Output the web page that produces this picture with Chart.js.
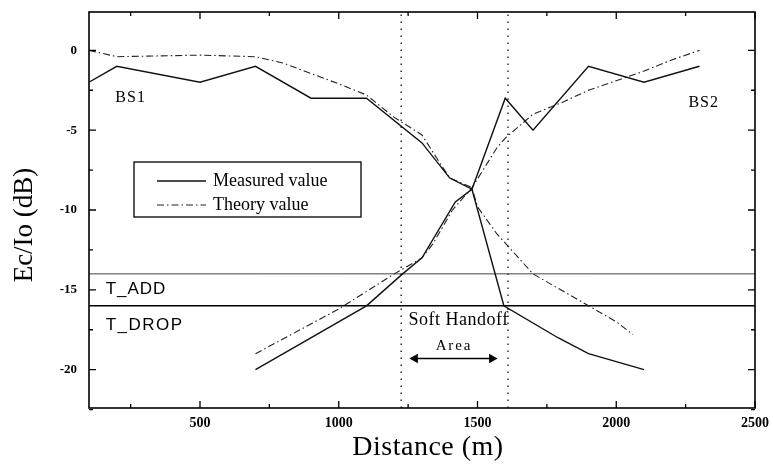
<!DOCTYPE html>
<html>
<head>
<meta charset="utf-8">
<script src="https://cdn.jsdelivr.net/npm/chart.js@4.4.1/dist/chart.umd.min.js"></script>
<style>
  html, body { margin: 0; padding: 0; background: #fff; }
  #wrap { width: 773px; height: 469px; }
</style>
</head>
<body>
<div id="wrap"><canvas id="handoffChart" width="773" height="469"></canvas></div>
<script>
// values (distance in m, Ec/Io in dB)
var measuredBs1Dist = [100, 200, 500, 700, 900, 1100, 1300, 1400, 1480, 1595, 1790, 1900, 2100];
var measuredBs1Val  = [-2, -1, -2, -1, -3, -3, -5.8, -8, -8.7, -16, -18, -19, -20];

var measuredBs2Dist = [700, 1100, 1230, 1300, 1420, 1480, 1600, 1700, 1900, 2100, 2300];
var measuredBs2Val  = [-20, -16, -14, -13, -9.5, -8.7, -3, -5, -1, -2, -1];

var theoryBs1Dist = [100, 200, 500, 700, 800, 1000, 1100, 1200, 1300, 1340, 1400, 1480, 1500, 1570, 1700, 1800, 1900, 2000, 2060];
var theoryBs1Val  = [0, -0.4, -0.3, -0.4, -0.8, -2.1, -2.8, -4.2, -5.3, -6.4, -8, -8.6, -9.8, -11.5, -14, -15, -16, -17, -17.8];

var theoryBs2Dist = [700, 1000, 1200, 1300, 1340, 1410, 1480, 1520, 1570, 1600, 1700, 1800, 1900, 2000, 2100, 2200, 2300];
var theoryBs2Val  = [-19, -16.2, -14, -13, -12.1, -10, -8.6, -7.5, -6.1, -5.5, -4, -3.3, -2.5, -1.9, -1.3, -0.6, 0];

var tAdd = -14;
var tDrop = -16;
var handoffStart = 1225;
var handoffEnd = 1610;
var arrowDist = [1275, 1552];
var arrowLevel = -19.3;

var xTicks = [500, 1000, 1500, 2000, 2500];
var xMinorTicks = [250, 750, 1250, 1750, 2250];
var yTicks = [-20, -15, -10, -5, 0];
var yMinorTicks = [-22.5, -17.5, -12.5, -7.5, -2.5];
var xRange = [100, 2500];
var yRange = [-22.4, 2.4];

var serif = '"Liberation Serif", "Times New Roman", serif';
var sans = '"Liberation Sans", Arial, sans-serif';

function pts(xs, ys) {
  return xs.map(function (x, i) { return { x: x, y: ys[i] }; });
}

var solid = { borderColor: '#111', borderWidth: 1.4, pointRadius: 0, fill: false, tension: 0 };
var dashDot = { borderColor: '#222', borderWidth: 1.1, borderDash: [7, 3, 1.5, 3], pointRadius: 0, fill: false, tension: 0 };

var datasets = [
  Object.assign({ label: 'Measured value', data: pts(measuredBs1Dist, measuredBs1Val) }, solid),
  Object.assign({ label: 'Measured BS2', data: pts(measuredBs2Dist, measuredBs2Val) }, solid),
  Object.assign({ label: 'Theory value', data: pts(theoryBs1Dist, theoryBs1Val) }, dashDot),
  Object.assign({ label: 'Theory BS2', data: pts(theoryBs2Dist, theoryBs2Val) }, dashDot),
  { label: 'T_ADD', data: pts(xRange, [tAdd, tAdd]), borderColor: '#444', borderWidth: 1, pointRadius: 0 },
  { label: 'T_DROP', data: pts(xRange, [tDrop, tDrop]), borderColor: '#000', borderWidth: 1.6, pointRadius: 0 },
  { label: 'start', data: pts([handoffStart, handoffStart], yRange), borderColor: '#222', borderWidth: 1.4, borderDash: [1.5, 5.5], pointRadius: 0 },
  { label: 'end', data: pts([handoffEnd, handoffEnd], yRange), borderColor: '#222', borderWidth: 1.4, borderDash: [1.5, 5.5], pointRadius: 0 },
  { label: 'arrow', data: pts(arrowDist, [arrowLevel, arrowLevel]), borderColor: '#000', borderWidth: 1.6,
    pointStyle: 'triangle', pointRadius: 4, pointRotation: [270, 90], pointBackgroundColor: '#000', pointBorderColor: '#000' }
];

// frame, inward ticks, axis titles, labels and legend box
var decorations = {
  id: 'decorations',
  afterDatasetsDraw: function (chart) {
    var ctx = chart.ctx, a = chart.chartArea;
    var xs = chart.scales.x, ys = chart.scales.y;
    ctx.save();
    ctx.strokeStyle = '#000';
    ctx.lineWidth = 1.6;
    ctx.strokeRect(a.left, a.top, a.right - a.left, a.bottom - a.top);

    ctx.lineWidth = 1.3;
    function tickX(v, len) {
      var p = xs.getPixelForValue(v);
      ctx.beginPath();
      ctx.moveTo(p, a.bottom); ctx.lineTo(p, a.bottom - len);
      ctx.moveTo(p, a.top); ctx.lineTo(p, a.top + len);
      ctx.stroke();
    }
    function tickY(v, len) {
      var p = ys.getPixelForValue(v);
      ctx.beginPath();
      ctx.moveTo(a.left, p); ctx.lineTo(a.left + len, p);
      ctx.moveTo(a.right, p); ctx.lineTo(a.right - len, p);
      ctx.stroke();
    }
    xTicks.forEach(function (v) { tickX(v, 7); });
    xMinorTicks.forEach(function (v) { tickX(v, 4); });
    yTicks.forEach(function (v) { tickY(v, 7); });
    yMinorTicks.forEach(function (v) { tickY(v, 4); });

    ctx.fillStyle = '#000';
    ctx.textBaseline = 'middle';

    // axis titles
    ctx.textAlign = 'center';
    ctx.font = '28px ' + serif;
    ctx.letterSpacing = '0.5px';
    ctx.fillText('Distance (m)', 428, 448);
    ctx.save();
    ctx.translate(25, 225);
    ctx.rotate(-Math.PI / 2);
    ctx.font = '27px ' + serif;
    ctx.letterSpacing = '0px';
    ctx.fillText('Ec/Io (dB)', 0, 0);
    ctx.restore();

    function label(text, d, v, font, align, spacing) {
      ctx.font = font;
      ctx.textAlign = align;
      ctx.letterSpacing = spacing || '0px';
      ctx.fillText(text, xs.getPixelForValue(d), ys.getPixelForValue(v));
    }
    label('BS1', 250, -3, '16px ' + serif, 'center', '1px');
    label('BS2', 2315, -3.3, '16px ' + serif, 'center', '1px');
    label('T_ADD', 160, -14.95, '17px ' + sans, 'left', '1px');
    label('T_DROP', 160, -17.2, '17px ' + sans, 'left', '1.5px');
    label('Soft Handoff', 1432, -16.9, '18px ' + serif, 'center', '0.5px');
    label('Area', 1415, -18.5, '15px ' + serif, 'center', '1.8px');

    // legend
    ctx.letterSpacing = '0px';
    var bx = 134, by = 162, bw = 227, bh = 55;
    ctx.lineWidth = 1.3;
    ctx.strokeRect(bx, by, bw, bh);
    var rows = [[0, 181], [2, 205]];
    rows.forEach(function (r) {
      var ds = chart.data.datasets[r[0]];
      ctx.beginPath();
      ctx.strokeStyle = ds.borderColor;
      ctx.lineWidth = ds.borderWidth;
      ctx.setLineDash(ds.borderDash || []);
      ctx.moveTo(157, r[1]); ctx.lineTo(206, r[1]);
      ctx.stroke();
      ctx.setLineDash([]);
      ctx.font = '18px ' + serif;
      ctx.textAlign = 'left';
      ctx.fillText(ds.label, 213, r[1]);
    });
    ctx.restore();
  }
};

new Chart('handoffChart', {
  type: 'line',
  data: { datasets: datasets },
  options: {
    responsive: false,
    animation: false,
    devicePixelRatio: 1,
    layout: { padding: { top: 12, right: 18, left: 0, bottom: 0 } },
    plugins: { legend: { display: false }, tooltip: { enabled: false } },
    scales: {
      x: {
        type: 'linear',
        min: xRange[0], max: xRange[1],
        afterBuildTicks: function (scale) { scale.ticks = xTicks.map(function (v) { return { value: v }; }); },
        afterFit: function (scale) { scale.height = 61; scale.paddingLeft = 0; scale.paddingRight = 0; },
        grid: { display: false, drawTicks: false },
        border: { display: false },
        ticks: { color: '#000', padding: 7, maxRotation: 0, callback: function (v) { return String(v); },
                 font: { family: serif, size: 14, weight: 'bold' } },
        title: { display: false, text: 'Distance (m)' }
      },
      y: {
        type: 'linear',
        min: yRange[0], max: yRange[1],
        afterBuildTicks: function (scale) { scale.ticks = yTicks.map(function (v) { return { value: v }; }); },
        afterFit: function (scale) { scale.width = 89; scale.paddingTop = 0; scale.paddingBottom = 0; },
        grid: { display: false, drawTicks: false },
        border: { display: false },
        ticks: { color: '#000', padding: 12, callback: function (v) { return String(v); },
                 font: { family: serif, size: 13, weight: 'bold' } },
        title: { display: false, text: 'Ec/Io (dB)' }
      }
    }
  },
  plugins: [decorations]
});
</script>
</body>
</html>
